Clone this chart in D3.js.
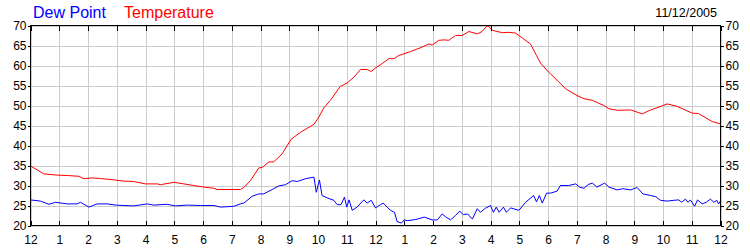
<!DOCTYPE html>
<html>
<head>
<meta charset="utf-8">
<script src="https://cdn.jsdelivr.net/npm/d3@7"></script>
<style>
  body { margin: 0; background: #fff; }
  svg { display: block; font-family: "Liberation Sans", Arial, sans-serif; }
  .grid line { stroke: #cccccc; shape-rendering: crispEdges; }
  .grid path { display: none; }
  .axis path { display: none; }
  .axis line { stroke: #000; shape-rendering: crispEdges; }
  .axis text { font-size: 12px; fill: #000; }
</style>
</head>
<body>
<div id="chart"></div>
<script>
// hours since midnight
var tempHours = [0, 0.46, 0.93, 1.28, 1.68, 1.86, 2.14, 2.43, 2.9, 3.25, 3.59, 4.0, 4.41, 4.52, 4.99,
  5.33, 5.68, 6.03, 6.38, 6.49, 7.07, 7.3, 7.42, 7.65, 7.94, 8.06, 8.29, 8.46, 8.75, 9.07, 9.39,
  9.86, 10.03, 10.2, 10.43, 10.78, 11.01, 11.25, 11.48, 11.71, 11.85, 12.06, 12.2, 12.46, 12.64,
  12.81, 13.22, 13.62, 13.86, 13.97, 14.2, 14.38, 14.55, 14.78, 15.01, 15.25, 15.54, 15.71, 15.86,
  15.94, 16.06, 16.41, 16.64, 16.87, 17.1, 17.39, 17.6, 17.74, 18.03, 18.32, 18.61, 18.84, 19.01,
  19.25, 19.54, 19.94, 20.12, 20.41, 20.87, 21.28, 21.57, 21.86, 22.14, 22.49, 23.01, 23.23, 23.71, 24]
var temperature = [34.9, 32.9, 32.6, 32.5, 32.3, 31.7, 31.9, 31.75, 31.4, 31.1, 31.0, 30.4, 30.4, 30.2, 30.8,
  30.4, 30.0, 29.6, 29.3, 29.0, 29.0, 29.0, 29.5, 31.2, 34.4, 34.5, 35.9, 35.9, 37.9, 41.6, 43.3,
  45.3, 47.1, 49.4, 51.3, 54.8, 55.6, 57.1, 59.0, 59.0, 58.5, 59.7, 60.3, 61.7, 61.7,
  62.5, 63.5, 64.6, 65.4, 65.1, 66.3, 66.4, 66.3, 67.5, 67.5, 68.5, 67.9, 68.5, 69.8,
  69.8, 68.8, 68.2, 68.3, 68.1, 66.9, 65.4, 62.5, 60.6, 58.3, 56.3, 54.2, 53.2, 52.5,
  51.7, 51.3, 50.0, 49.2, 48.8, 48.9, 47.9, 48.9, 49.6, 50.4, 49.8, 48.1, 48.0, 46.0, 45.4]

var dewHours = [0, 0.35, 0.64, 0.87, 1.28, 1.62, 1.74, 2.03, 2.32, 2.67, 2.96, 3.59, 4.06, 4.29, 4.75,
  5.04, 5.45, 5.91, 6.38, 6.61, 7.07, 7.3, 7.42, 7.71, 7.94, 8.11, 8.41, 8.64, 8.87, 9.1, 9.28,
  9.57, 9.86, 9.94, 10.05, 10.14, 10.32, 10.55, 10.67, 10.8, 10.92, 11.0, 11.08, 11.19, 11.36,
  11.59, 11.71, 11.85, 12.0, 12.17, 12.27, 12.52, 12.66, 12.75, 12.9, 13.0, 13.1, 13.4, 13.7,
  13.97, 14.15, 14.32, 14.45, 14.61, 14.78, 14.93, 15.05, 15.2, 15.37, 15.54, 15.65, 15.82, 16.0,
  16.1, 16.2, 16.3, 16.45, 16.55, 16.7, 16.99, 17.22, 17.5, 17.6, 17.7, 17.8, 17.95, 18.09,
  18.32, 18.43, 18.72, 18.96, 19.1, 19.25, 19.4, 19.54, 19.7, 19.97, 20.12, 20.41, 20.6, 20.87,
  21.1, 21.3, 21.57, 21.75, 21.91, 22.14, 22.38, 22.55, 22.65, 22.78, 22.87, 22.95, 23.1, 23.2,
  23.36, 23.5, 23.65, 23.77, 23.87, 23.93, 24]
var dewPoint = [26.4, 26.1, 25.3, 25.8, 25.4, 25.4, 25.8, 24.6, 25.4, 25.4, 25.1, 24.9, 25.4, 25.1, 25.3,
  24.9, 25.1, 25.0, 25.0, 24.6, 24.8, 25.4, 25.6, 27.3, 27.9, 27.9, 29.0, 29.9, 30.2, 31.2, 31.0,
  31.7, 32.1, 28.3, 31.4, 27.5, 26.9, 26.3, 25.2, 25.2, 27.1, 24.6, 26.4, 23.8, 24.6,
  26.4, 25.6, 26.3, 24.4, 25.2, 25.6, 23.8, 23.3, 21.0, 20.6, 21.4, 21.2, 21.5, 22.1,
  21.4, 21.4, 22.9, 22.1, 21.4, 22.5, 23.6, 22.7, 22.9, 21.6, 24.2, 23.3, 24.3, 25.0,
  23.3, 24.6, 23.3, 24.6, 23.3, 24.4, 23.8, 25.8, 27.5, 25.9, 27.5, 25.6, 28.1, 28.1,
  28.6, 30.0, 30.0, 30.4, 29.6, 29.3, 30.25, 30.6, 29.6, 30.6, 29.6, 28.9, 29.2, 28.9,
  29.5, 27.9, 27.5, 27.2, 26.3, 26.1, 26.3, 26.4, 25.8, 26.6, 25.8, 26.4, 24.8, 26.4,
  25.4, 25.8, 26.6, 25.8, 26.3, 25.4, 26.1]

var hourTicks = d3.range(0, 25)
var hourLabels = ["12", "1", "2", "3", "4", "5", "6", "7", "8", "9", "10", "11",
  "12", "1", "2", "3", "4", "5", "6", "7", "8", "9", "10", "11", "12"]
var yTicks = [20, 25, 30, 35, 40, 45, 50, 55, 60, 65, 70]

var width = 750,
    height = 250

var svg = d3.select("#chart")
  .append("svg")
    .attr("width", width)
    .attr("height", height)

var x = d3.scaleLinear().domain([0, 24]).range([30.5, 720.5])
var y = d3.scaleLinear().domain([20, 70]).range([225.5, 25.5])

// grid lines
svg.append("g")
  .attr("class", "grid")
  .attr("transform", "translate(0,225.5)")
  .call(d3.axisBottom(x).tickValues(hourTicks).tickSize(-200).tickFormat(""))

svg.append("g")
  .attr("class", "grid")
  .attr("transform", "translate(30.5,0)")
  .call(d3.axisLeft(y).tickValues(yTicks).tickSize(-690).tickFormat(""))

// the two series
var line = d3.line()
  .x(function(d) { return x(d[0]) })
  .y(function(d) { return y(d[1]) })

svg.append("path")
  .datum(d3.zip(tempHours, temperature))
  .attr("fill", "none")
  .attr("stroke", "#ff0000")
  .attr("stroke-width", 1)
  .attr("d", line)

svg.append("path")
  .datum(d3.zip(dewHours, dewPoint))
  .attr("fill", "none")
  .attr("stroke", "#0000ff")
  .attr("stroke-width", 1)
  .attr("d", line)

// frame
svg.append("rect")
  .attr("x", 30.5).attr("y", 25.5)
  .attr("width", 690).attr("height", 200)
  .attr("fill", "none")
  .attr("stroke", "#000")
  .style("shape-rendering", "crispEdges")

// axes
svg.append("g")
  .attr("class", "axis")
  .attr("transform", "translate(0,225.5)")
  .call(d3.axisBottom(x).tickValues(hourTicks)
    .tickFormat(function(d, i) { return hourLabels[i] })
    .tickSizeInner(-5).tickSizeOuter(0).tickPadding(10))

svg.append("g")
  .attr("class", "axis")
  .attr("transform", "translate(0,25.5)")
  .call(d3.axisTop(x).tickValues(hourTicks).tickFormat("")
    .tickSizeInner(-5).tickSizeOuter(0))

svg.append("g")
  .attr("class", "axis")
  .attr("transform", "translate(30.5,0)")
  .call(d3.axisLeft(y).tickValues(yTicks).tickSizeInner(3).tickSizeOuter(0).tickPadding(1))

svg.append("g")
  .attr("class", "axis")
  .attr("transform", "translate(720.5,0)")
  .call(d3.axisRight(y).tickValues(yTicks).tickSizeInner(3).tickSizeOuter(0).tickPadding(2))

// legend and date
svg.append("text")
  .attr("x", 33).attr("y", 18)
  .style("font-size", "16px")
  .attr("fill", "#0000ff")
  .text("Dew Point")

svg.append("text")
  .attr("x", 124).attr("y", 18)
  .style("font-size", "16px")
  .attr("fill", "#ff0000")
  .text("Temperature")

svg.append("text")
  .attr("x", 717).attr("y", 17)
  .attr("text-anchor", "end")
  .style("font-size", "12.5px")
  .attr("fill", "#000")
  .text("11/12/2005")
</script>
</body>
</html>
